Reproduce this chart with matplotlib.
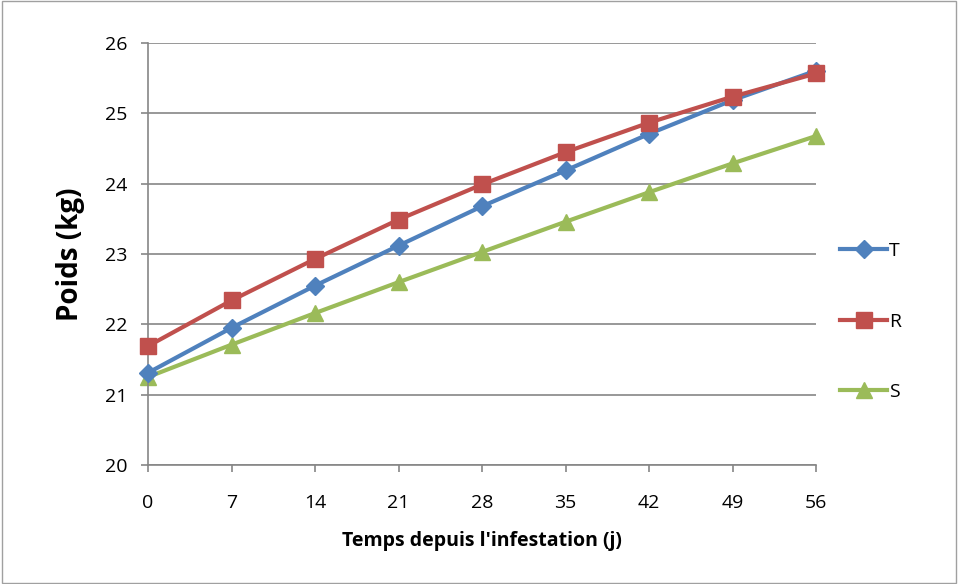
import matplotlib
matplotlib.use("Agg")
import matplotlib.pyplot as plt

# jours depuis l'infestation
days = [0, 7, 14, 21, 28, 35, 42, 49, 56]
poids_T = [21.31, 21.95, 22.55, 23.12, 23.68, 24.19, 24.71, 25.19, 25.61]
poids_R = [21.69, 22.34, 22.93, 23.49, 23.99, 24.45, 24.87, 25.24, 25.57]
poids_S = [21.25, 21.71, 22.16, 22.60, 23.03, 23.46, 23.88, 24.29, 24.68]

plt.rcParams['font.family'] = ['Open Sans', 'DejaVu Sans']

fig = plt.figure(figsize=(9.58, 5.84), dpi=100)
ax = fig.add_axes([0.1545, 0.204, 0.852 - 0.1545, 0.926 - 0.204])

# light frame around the chart area
fig.patches.append(plt.Rectangle((0.002, 0.002), 0.996, 0.996, transform=fig.transFigure,
                                 fill=False, edgecolor='#a0a0a0', linewidth=1))

ax.plot(days, poids_T, color='#4F81BD', lw=3, marker='D', ms=9, label='T', zorder=3, clip_on=False)
ax.plot(days, poids_R, color='#C0504D', lw=3, marker='s', ms=11, label='R', zorder=4, clip_on=False)
ax.plot(days, poids_S, color='#9BBB59', lw=3, marker='^', ms=11, label='S', zorder=2, clip_on=False)

ax.set_xlim(0, 56)
ax.set_ylim(20, 26)
ax.set_xticks(days)
ax.set_yticks(range(20, 27))
ax.grid(axis='y', color='#868686', lw=1.2)
ax.set_axisbelow(True)
for side in ['top', 'right']:
    ax.spines[side].set_visible(False)
for side in ['left', 'bottom']:
    ax.spines[side].set_color('#868686')
    ax.spines[side].set_linewidth(1.2)
ax.tick_params(axis='both', colors='#868686', labelcolor='black', labelsize=14, length=5, width=1.2)
ax.tick_params(axis='x', pad=16)
ax.tick_params(axis='y', pad=10)

ax.set_xlabel("Temps depuis l'infestation (j)", fontsize=14, fontweight='bold', labelpad=14)
ax.set_ylabel('Poids (kg)', fontsize=20, fontweight='bold', labelpad=14)

ax.legend(loc='center left', bbox_to_anchor=(1.01, 0.34), frameon=False, fontsize=14,
          labelspacing=2.7, handlelength=2.4, handletextpad=0.1)

fig.savefig('out.png', dpi=100)
